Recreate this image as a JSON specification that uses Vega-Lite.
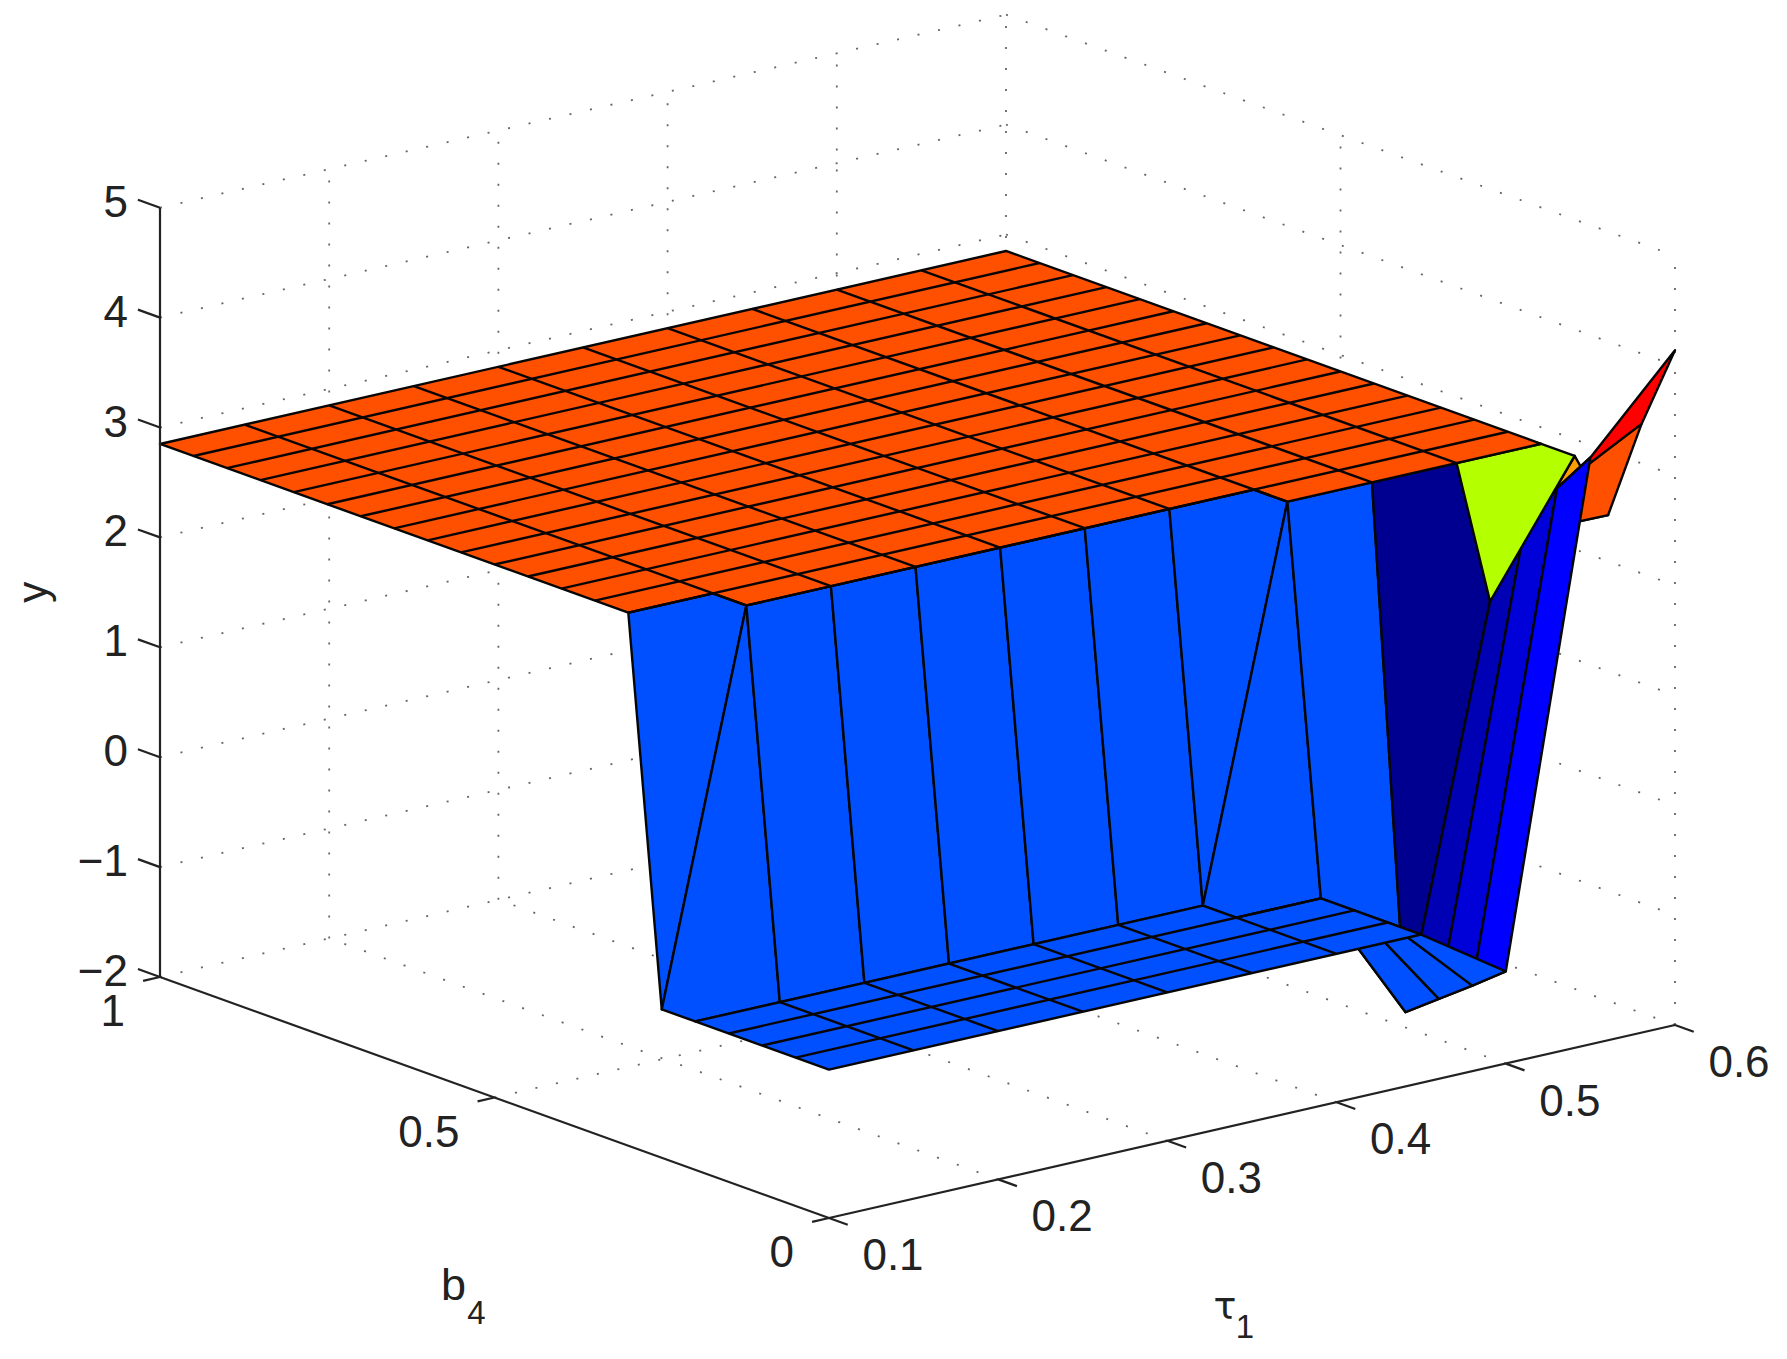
{"$schema":"https://vega.github.io/schema/vega-lite/v6.json","width":1787,"height":1359,"padding":0,"autosize":{"type":"fit","contains":"padding"},"background":"white","config":{"view":{"stroke":null}},
"data":{"values":[
{"k":"g","id":"g1","i":0,"tau":0.2,"b4":0,"y":-2},{"k":"g","id":"g1","i":1,"tau":0.2,"b4":1,"y":-2},
{"k":"g","id":"g2","i":0,"tau":0.3,"b4":0,"y":-2},{"k":"g","id":"g2","i":1,"tau":0.3,"b4":1,"y":-2},
{"k":"g","id":"g3","i":0,"tau":0.4,"b4":0,"y":-2},{"k":"g","id":"g3","i":1,"tau":0.4,"b4":1,"y":-2},
{"k":"g","id":"g4","i":0,"tau":0.5,"b4":0,"y":-2},{"k":"g","id":"g4","i":1,"tau":0.5,"b4":1,"y":-2},
{"k":"g","id":"g5","i":0,"tau":0.6,"b4":0,"y":-2},{"k":"g","id":"g5","i":1,"tau":0.6,"b4":1,"y":-2},
{"k":"g","id":"g6","i":0,"tau":0.1,"b4":0.5,"y":-2},{"k":"g","id":"g6","i":1,"tau":0.6,"b4":0.5,"y":-2},
{"k":"g","id":"g7","i":0,"tau":0.1,"b4":1,"y":-2},{"k":"g","id":"g7","i":1,"tau":0.6,"b4":1,"y":-2},
{"k":"g","id":"g8","i":0,"tau":0.1,"b4":1,"y":-1},{"k":"g","id":"g8","i":1,"tau":0.6,"b4":1,"y":-1},
{"k":"g","id":"g9","i":0,"tau":0.1,"b4":1,"y":0},{"k":"g","id":"g9","i":1,"tau":0.6,"b4":1,"y":0},
{"k":"g","id":"g10","i":0,"tau":0.1,"b4":1,"y":1},{"k":"g","id":"g10","i":1,"tau":0.6,"b4":1,"y":1},
{"k":"g","id":"g11","i":0,"tau":0.1,"b4":1,"y":2},{"k":"g","id":"g11","i":1,"tau":0.6,"b4":1,"y":2},
{"k":"g","id":"g12","i":0,"tau":0.1,"b4":1,"y":3},{"k":"g","id":"g12","i":1,"tau":0.6,"b4":1,"y":3},
{"k":"g","id":"g13","i":0,"tau":0.1,"b4":1,"y":4},{"k":"g","id":"g13","i":1,"tau":0.6,"b4":1,"y":4},
{"k":"g","id":"g14","i":0,"tau":0.1,"b4":1,"y":5},{"k":"g","id":"g14","i":1,"tau":0.6,"b4":1,"y":5},
{"k":"g","id":"g15","i":0,"tau":0.2,"b4":1,"y":-2},{"k":"g","id":"g15","i":1,"tau":0.2,"b4":1,"y":5},
{"k":"g","id":"g16","i":0,"tau":0.3,"b4":1,"y":-2},{"k":"g","id":"g16","i":1,"tau":0.3,"b4":1,"y":5},
{"k":"g","id":"g17","i":0,"tau":0.4,"b4":1,"y":-2},{"k":"g","id":"g17","i":1,"tau":0.4,"b4":1,"y":5},
{"k":"g","id":"g18","i":0,"tau":0.5,"b4":1,"y":-2},{"k":"g","id":"g18","i":1,"tau":0.5,"b4":1,"y":5},
{"k":"g","id":"g19","i":0,"tau":0.6,"b4":1,"y":-2},{"k":"g","id":"g19","i":1,"tau":0.6,"b4":1,"y":5},
{"k":"g","id":"g20","i":0,"tau":0.6,"b4":0.5,"y":-2},{"k":"g","id":"g20","i":1,"tau":0.6,"b4":0.5,"y":5},
{"k":"g","id":"g21","i":0,"tau":0.6,"b4":0,"y":-2},{"k":"g","id":"g21","i":1,"tau":0.6,"b4":0,"y":5},
{"k":"g","id":"g22","i":0,"tau":0.6,"b4":1,"y":-1},{"k":"g","id":"g22","i":1,"tau":0.6,"b4":0,"y":-1},
{"k":"g","id":"g23","i":0,"tau":0.6,"b4":1,"y":0},{"k":"g","id":"g23","i":1,"tau":0.6,"b4":0,"y":0},
{"k":"g","id":"g24","i":0,"tau":0.6,"b4":1,"y":1},{"k":"g","id":"g24","i":1,"tau":0.6,"b4":0,"y":1},
{"k":"g","id":"g25","i":0,"tau":0.6,"b4":1,"y":2},{"k":"g","id":"g25","i":1,"tau":0.6,"b4":0,"y":2},
{"k":"g","id":"g26","i":0,"tau":0.6,"b4":1,"y":3},{"k":"g","id":"g26","i":1,"tau":0.6,"b4":0,"y":3},
{"k":"g","id":"g27","i":0,"tau":0.6,"b4":1,"y":4},{"k":"g","id":"g27","i":1,"tau":0.6,"b4":0,"y":4},
{"k":"g","id":"g28","i":0,"tau":0.6,"b4":1,"y":5},{"k":"g","id":"g28","i":1,"tau":0.6,"b4":0,"y":5},

{"k":"f","id":"f01","c":"amber","i":0,"tau":0.55,"b4":0.15,"y":1.7},{"k":"f","id":"f01","c":"amber","i":1,"tau":0.6,"b4":0.15,"y":2.85},{"k":"f","id":"f01","c":"amber","i":2,"tau":0.6,"b4":0.1,"y":2.42},{"k":"f","id":"f01","c":"amber","i":3,"tau":0.55,"b4":0.1,"y":2.43},
{"k":"f","id":"f02","c":"orange","i":0,"tau":0.55,"b4":0.1,"y":2.43},{"k":"f","id":"f02","c":"orange","i":1,"tau":0.6,"b4":0.1,"y":2.42},{"k":"f","id":"f02","c":"orange","i":2,"tau":0.6,"b4":0.05,"y":3.36},{"k":"f","id":"f02","c":"orange","i":3,"tau":0.55,"b4":0.05,"y":2.95},
{"k":"f","id":"f03","c":"red","i":0,"tau":0.55,"b4":0.05,"y":2.95},{"k":"f","id":"f03","c":"red","i":1,"tau":0.6,"b4":0.05,"y":3.36},{"k":"f","id":"f03","c":"red","i":2,"tau":0.6,"b4":0,"y":4.14},{"k":"f","id":"f03","c":"red","i":3,"tau":0.55,"b4":0,"y":3.34},

{"k":"f","id":"f04","c":"wall","i":0,"tau":0.1,"b4":0.3,"y":2.85},{"k":"f","id":"f04","c":"wall","i":1,"tau":0.15,"b4":0.3,"y":2.85},{"k":"f","id":"f04","c":"wall","i":2,"tau":0.15,"b4":0.25,"y":2.85},{"k":"f","id":"f04","c":"wall","i":3,"tau":0.1,"b4":0.25,"y":-0.65},
{"k":"f","id":"f05","c":"wall","i":0,"tau":0.1,"b4":0.25,"y":-0.65},{"k":"f","id":"f05","c":"wall","i":1,"tau":0.15,"b4":0.25,"y":2.85},{"k":"f","id":"f05","c":"wall","i":2,"tau":0.15,"b4":0.2,"y":-0.65},{"k":"f","id":"f05","c":"wall","i":3,"tau":0.1,"b4":0.2,"y":-0.65},
{"k":"f","id":"f06","c":"wall","i":0,"tau":0.15,"b4":0.25,"y":2.85},{"k":"f","id":"f06","c":"wall","i":1,"tau":0.2,"b4":0.25,"y":2.85},{"k":"f","id":"f06","c":"wall","i":2,"tau":0.2,"b4":0.2,"y":-0.65},{"k":"f","id":"f06","c":"wall","i":3,"tau":0.15,"b4":0.2,"y":-0.65},
{"k":"f","id":"f07","c":"wall","i":0,"tau":0.2,"b4":0.25,"y":2.85},{"k":"f","id":"f07","c":"wall","i":1,"tau":0.25,"b4":0.25,"y":2.85},{"k":"f","id":"f07","c":"wall","i":2,"tau":0.25,"b4":0.2,"y":-0.65},{"k":"f","id":"f07","c":"wall","i":3,"tau":0.2,"b4":0.2,"y":-0.65},
{"k":"f","id":"f08","c":"wall","i":0,"tau":0.25,"b4":0.25,"y":2.85},{"k":"f","id":"f08","c":"wall","i":1,"tau":0.3,"b4":0.25,"y":2.85},{"k":"f","id":"f08","c":"wall","i":2,"tau":0.3,"b4":0.2,"y":-0.65},{"k":"f","id":"f08","c":"wall","i":3,"tau":0.25,"b4":0.2,"y":-0.65},
{"k":"f","id":"f09","c":"wall","i":0,"tau":0.3,"b4":0.25,"y":2.85},{"k":"f","id":"f09","c":"wall","i":1,"tau":0.35,"b4":0.25,"y":2.85},{"k":"f","id":"f09","c":"wall","i":2,"tau":0.35,"b4":0.2,"y":-0.65},{"k":"f","id":"f09","c":"wall","i":3,"tau":0.3,"b4":0.2,"y":-0.65},
{"k":"f","id":"f10","c":"wall","i":0,"tau":0.35,"b4":0.25,"y":2.85},{"k":"f","id":"f10","c":"wall","i":1,"tau":0.4,"b4":0.25,"y":2.85},{"k":"f","id":"f10","c":"wall","i":2,"tau":0.4,"b4":0.2,"y":-0.65},{"k":"f","id":"f10","c":"wall","i":3,"tau":0.35,"b4":0.2,"y":-0.65},
{"k":"f","id":"f11","c":"wall","i":0,"tau":0.4,"b4":0.25,"y":2.85},{"k":"f","id":"f11","c":"wall","i":1,"tau":0.45,"b4":0.25,"y":2.85},{"k":"f","id":"f11","c":"wall","i":2,"tau":0.45,"b4":0.2,"y":2.85},{"k":"f","id":"f11","c":"wall","i":3,"tau":0.4,"b4":0.2,"y":-0.65},
{"k":"f","id":"f12","c":"wall","i":0,"tau":0.4,"b4":0.2,"y":-0.65},{"k":"f","id":"f12","c":"wall","i":1,"tau":0.45,"b4":0.2,"y":2.85},{"k":"f","id":"f12","c":"wall","i":2,"tau":0.45,"b4":0.15,"y":-0.65},{"k":"f","id":"f12","c":"wall","i":3,"tau":0.4,"b4":0.15,"y":-0.65},
{"k":"f","id":"f13","c":"wall","i":0,"tau":0.45,"b4":0.2,"y":2.85},{"k":"f","id":"f13","c":"wall","i":1,"tau":0.5,"b4":0.2,"y":2.85},{"k":"f","id":"f13","c":"wall","i":2,"tau":0.5,"b4":0.15,"y":-1.86},{"k":"f","id":"f13","c":"wall","i":3,"tau":0.45,"b4":0.15,"y":-0.65},

{"k":"f","id":"f14","c":"navy","i":0,"tau":0.5,"b4":0.2,"y":2.85},{"k":"f","id":"f14","c":"navy","i":1,"tau":0.55,"b4":0.2,"y":2.85},{"k":"f","id":"f14","c":"navy","i":2,"tau":0.55,"b4":0.15,"y":1.7},{"k":"f","id":"f14","c":"navy","i":3,"tau":0.5,"b4":0.15,"y":-1.86},
{"k":"f","id":"f15","c":"blue1","i":0,"tau":0.5,"b4":0.15,"y":-1.86},{"k":"f","id":"f15","c":"blue1","i":1,"tau":0.55,"b4":0.15,"y":1.7},{"k":"f","id":"f15","c":"blue1","i":2,"tau":0.55,"b4":0.1,"y":2.43},{"k":"f","id":"f15","c":"blue1","i":3,"tau":0.5,"b4":0.1,"y":-1.63},
{"k":"f","id":"f16","c":"blue2","i":0,"tau":0.5,"b4":0.1,"y":-1.63},{"k":"f","id":"f16","c":"blue2","i":1,"tau":0.55,"b4":0.1,"y":2.43},{"k":"f","id":"f16","c":"blue2","i":2,"tau":0.55,"b4":0.05,"y":2.95},{"k":"f","id":"f16","c":"blue2","i":3,"tau":0.5,"b4":0.05,"y":-1.4},
{"k":"f","id":"f17","c":"blue3","i":0,"tau":0.5,"b4":0.05,"y":-1.4},{"k":"f","id":"f17","c":"blue3","i":1,"tau":0.55,"b4":0.05,"y":2.95},{"k":"f","id":"f17","c":"blue3","i":2,"tau":0.55,"b4":0,"y":3.34},{"k":"f","id":"f17","c":"blue3","i":3,"tau":0.5,"b4":0,"y":-1.16},
{"k":"f","id":"f18","c":"lime","i":0,"tau":0.55,"b4":0.2,"y":2.85},{"k":"f","id":"f18","c":"lime","i":1,"tau":0.6,"b4":0.2,"y":2.85},{"k":"f","id":"f18","c":"lime","i":2,"tau":0.6,"b4":0.15,"y":2.85},{"k":"f","id":"f18","c":"lime","i":3,"tau":0.55,"b4":0.15,"y":1.7},

{"k":"f","id":"f19","c":"wall","i":0,"tau":0.45,"b4":0.15,"y":-0.65},{"k":"f","id":"f19","c":"wall","i":1,"tau":0.5,"b4":0.15,"y":-1.86},{"k":"f","id":"f19","c":"wall","i":2,"tau":0.5,"b4":0.1,"y":-1.63},{"k":"f","id":"f19","c":"wall","i":3,"tau":0.45,"b4":0.1,"y":-0.65},
{"k":"f","id":"f20","c":"wall","i":0,"tau":0.45,"b4":0.1,"y":-0.65},{"k":"f","id":"f20","c":"wall","i":1,"tau":0.5,"b4":0.1,"y":-1.63},{"k":"f","id":"f20","c":"wall","i":2,"tau":0.5,"b4":0.05,"y":-1.4},{"k":"f","id":"f20","c":"wall","i":3,"tau":0.45,"b4":0.05,"y":-0.65},
{"k":"f","id":"f21","c":"wall","i":0,"tau":0.45,"b4":0.05,"y":-0.65},{"k":"f","id":"f21","c":"wall","i":1,"tau":0.5,"b4":0.05,"y":-1.4},{"k":"f","id":"f21","c":"wall","i":2,"tau":0.5,"b4":0,"y":-1.16},{"k":"f","id":"f21","c":"wall","i":3,"tau":0.45,"b4":0,"y":-0.65},

{"k":"f","id":"f22","c":"wall","i":0,"tau":0.1,"b4":0.2,"y":-0.65},{"k":"f","id":"f22","c":"wall","i":1,"tau":0.4,"b4":0.2,"y":-0.65},{"k":"f","id":"f22","c":"wall","i":2,"tau":0.4,"b4":0.15,"y":-0.65},{"k":"f","id":"f22","c":"wall","i":3,"tau":0.45,"b4":0.15,"y":-0.65},{"k":"f","id":"f22","c":"wall","i":4,"tau":0.45,"b4":0,"y":-0.65},{"k":"f","id":"f22","c":"wall","i":5,"tau":0.1,"b4":0,"y":-0.65},

{"k":"f","id":"f23","c":"orange","i":0,"tau":0.1,"b4":1,"y":2.85},{"k":"f","id":"f23","c":"orange","i":1,"tau":0.6,"b4":1,"y":2.85},{"k":"f","id":"f23","c":"orange","i":2,"tau":0.6,"b4":0.2,"y":2.85},{"k":"f","id":"f23","c":"orange","i":3,"tau":0.45,"b4":0.2,"y":2.85},{"k":"f","id":"f23","c":"orange","i":4,"tau":0.45,"b4":0.25,"y":2.85},{"k":"f","id":"f23","c":"orange","i":5,"tau":0.15,"b4":0.25,"y":2.85},{"k":"f","id":"f23","c":"orange","i":6,"tau":0.15,"b4":0.3,"y":2.85},{"k":"f","id":"f23","c":"orange","i":7,"tau":0.1,"b4":0.3,"y":2.85},

{"k":"m","id":"m01","i":0,"tau":0.1,"b4":0.95,"y":2.85},{"k":"m","id":"m01","i":1,"tau":0.6,"b4":0.95,"y":2.85},
{"k":"m","id":"m02","i":0,"tau":0.1,"b4":0.9,"y":2.85},{"k":"m","id":"m02","i":1,"tau":0.6,"b4":0.9,"y":2.85},
{"k":"m","id":"m03","i":0,"tau":0.1,"b4":0.85,"y":2.85},{"k":"m","id":"m03","i":1,"tau":0.6,"b4":0.85,"y":2.85},
{"k":"m","id":"m04","i":0,"tau":0.1,"b4":0.8,"y":2.85},{"k":"m","id":"m04","i":1,"tau":0.6,"b4":0.8,"y":2.85},
{"k":"m","id":"m05","i":0,"tau":0.1,"b4":0.75,"y":2.85},{"k":"m","id":"m05","i":1,"tau":0.6,"b4":0.75,"y":2.85},
{"k":"m","id":"m06","i":0,"tau":0.1,"b4":0.7,"y":2.85},{"k":"m","id":"m06","i":1,"tau":0.6,"b4":0.7,"y":2.85},
{"k":"m","id":"m07","i":0,"tau":0.1,"b4":0.65,"y":2.85},{"k":"m","id":"m07","i":1,"tau":0.6,"b4":0.65,"y":2.85},
{"k":"m","id":"m08","i":0,"tau":0.1,"b4":0.6,"y":2.85},{"k":"m","id":"m08","i":1,"tau":0.6,"b4":0.6,"y":2.85},
{"k":"m","id":"m09","i":0,"tau":0.1,"b4":0.55,"y":2.85},{"k":"m","id":"m09","i":1,"tau":0.6,"b4":0.55,"y":2.85},
{"k":"m","id":"m10","i":0,"tau":0.1,"b4":0.5,"y":2.85},{"k":"m","id":"m10","i":1,"tau":0.6,"b4":0.5,"y":2.85},
{"k":"m","id":"m11","i":0,"tau":0.1,"b4":0.45,"y":2.85},{"k":"m","id":"m11","i":1,"tau":0.6,"b4":0.45,"y":2.85},
{"k":"m","id":"m12","i":0,"tau":0.1,"b4":0.4,"y":2.85},{"k":"m","id":"m12","i":1,"tau":0.6,"b4":0.4,"y":2.85},
{"k":"m","id":"m13","i":0,"tau":0.1,"b4":0.35,"y":2.85},{"k":"m","id":"m13","i":1,"tau":0.6,"b4":0.35,"y":2.85},
{"k":"m","id":"m14","i":0,"tau":0.1,"b4":0.3,"y":2.85},{"k":"m","id":"m14","i":1,"tau":0.6,"b4":0.3,"y":2.85},
{"k":"m","id":"m15","i":0,"tau":0.15,"b4":0.25,"y":2.85},{"k":"m","id":"m15","i":1,"tau":0.6,"b4":0.25,"y":2.85},
{"k":"m","id":"m16","i":0,"tau":0.15,"b4":1,"y":2.85},{"k":"m","id":"m16","i":1,"tau":0.15,"b4":0.25,"y":2.85},
{"k":"m","id":"m17","i":0,"tau":0.2,"b4":1,"y":2.85},{"k":"m","id":"m17","i":1,"tau":0.2,"b4":0.25,"y":2.85},
{"k":"m","id":"m18","i":0,"tau":0.25,"b4":1,"y":2.85},{"k":"m","id":"m18","i":1,"tau":0.25,"b4":0.25,"y":2.85},
{"k":"m","id":"m19","i":0,"tau":0.3,"b4":1,"y":2.85},{"k":"m","id":"m19","i":1,"tau":0.3,"b4":0.25,"y":2.85},
{"k":"m","id":"m20","i":0,"tau":0.35,"b4":1,"y":2.85},{"k":"m","id":"m20","i":1,"tau":0.35,"b4":0.25,"y":2.85},
{"k":"m","id":"m21","i":0,"tau":0.4,"b4":1,"y":2.85},{"k":"m","id":"m21","i":1,"tau":0.4,"b4":0.25,"y":2.85},
{"k":"m","id":"m22","i":0,"tau":0.45,"b4":1,"y":2.85},{"k":"m","id":"m22","i":1,"tau":0.45,"b4":0.2,"y":2.85},
{"k":"m","id":"m23","i":0,"tau":0.5,"b4":1,"y":2.85},{"k":"m","id":"m23","i":1,"tau":0.5,"b4":0.2,"y":2.85},
{"k":"m","id":"m24","i":0,"tau":0.55,"b4":1,"y":2.85},{"k":"m","id":"m24","i":1,"tau":0.55,"b4":0.2,"y":2.85},
{"k":"m","id":"m25","i":0,"tau":0.1,"b4":0.15,"y":-0.65},{"k":"m","id":"m25","i":1,"tau":0.45,"b4":0.15,"y":-0.65},
{"k":"m","id":"m26","i":0,"tau":0.1,"b4":0.1,"y":-0.65},{"k":"m","id":"m26","i":1,"tau":0.45,"b4":0.1,"y":-0.65},
{"k":"m","id":"m27","i":0,"tau":0.1,"b4":0.05,"y":-0.65},{"k":"m","id":"m27","i":1,"tau":0.45,"b4":0.05,"y":-0.65},
{"k":"m","id":"m28","i":0,"tau":0.15,"b4":0.2,"y":-0.65},{"k":"m","id":"m28","i":1,"tau":0.15,"b4":0,"y":-0.65},
{"k":"m","id":"m29","i":0,"tau":0.2,"b4":0.2,"y":-0.65},{"k":"m","id":"m29","i":1,"tau":0.2,"b4":0,"y":-0.65},
{"k":"m","id":"m30","i":0,"tau":0.25,"b4":0.2,"y":-0.65},{"k":"m","id":"m30","i":1,"tau":0.25,"b4":0,"y":-0.65},
{"k":"m","id":"m31","i":0,"tau":0.3,"b4":0.2,"y":-0.65},{"k":"m","id":"m31","i":1,"tau":0.3,"b4":0,"y":-0.65},
{"k":"m","id":"m32","i":0,"tau":0.35,"b4":0.2,"y":-0.65},{"k":"m","id":"m32","i":1,"tau":0.35,"b4":0,"y":-0.65},
{"k":"m","id":"m33","i":0,"tau":0.4,"b4":0.15,"y":-0.65},{"k":"m","id":"m33","i":1,"tau":0.4,"b4":0,"y":-0.65},

{"k":"a","id":"a1","i":0,"tau":0.1,"b4":1,"y":-2},{"k":"a","id":"a1","i":1,"tau":0.1,"b4":1,"y":5},
{"k":"a","id":"a2","i":0,"tau":0.1,"b4":1,"y":-2},{"k":"a","id":"a2","i":1,"tau":0.1,"b4":0,"y":-2},
{"k":"a","id":"a3","i":0,"tau":0.1,"b4":0,"y":-2},{"k":"a","id":"a3","i":1,"tau":0.6,"b4":0,"y":-2},
{"k":"a","id":"z1","i":0,"tau":0.1,"b4":1,"y":-2},{"k":"a","id":"z1","i":1,"tau":0.1,"b4":1.033,"y":-2},
{"k":"a","id":"z2","i":0,"tau":0.1,"b4":1,"y":-1},{"k":"a","id":"z2","i":1,"tau":0.1,"b4":1.033,"y":-1},
{"k":"a","id":"z3","i":0,"tau":0.1,"b4":1,"y":0},{"k":"a","id":"z3","i":1,"tau":0.1,"b4":1.033,"y":0},
{"k":"a","id":"z4","i":0,"tau":0.1,"b4":1,"y":1},{"k":"a","id":"z4","i":1,"tau":0.1,"b4":1.033,"y":1},
{"k":"a","id":"z5","i":0,"tau":0.1,"b4":1,"y":2},{"k":"a","id":"z5","i":1,"tau":0.1,"b4":1.033,"y":2},
{"k":"a","id":"z6","i":0,"tau":0.1,"b4":1,"y":3},{"k":"a","id":"z6","i":1,"tau":0.1,"b4":1.033,"y":3},
{"k":"a","id":"z7","i":0,"tau":0.1,"b4":1,"y":4},{"k":"a","id":"z7","i":1,"tau":0.1,"b4":1.033,"y":4},
{"k":"a","id":"z8","i":0,"tau":0.1,"b4":1,"y":5},{"k":"a","id":"z8","i":1,"tau":0.1,"b4":1.033,"y":5},
{"k":"a","id":"b1","i":0,"tau":0.1,"b4":1,"y":-2},{"k":"a","id":"b1","i":1,"tau":0.09,"b4":1,"y":-2},
{"k":"a","id":"b2","i":0,"tau":0.1,"b4":0.5,"y":-2},{"k":"a","id":"b2","i":1,"tau":0.09,"b4":0.5,"y":-2},
{"k":"a","id":"b3","i":0,"tau":0.1,"b4":0,"y":-2},{"k":"a","id":"b3","i":1,"tau":0.09,"b4":0,"y":-2},
{"k":"a","id":"t1","i":0,"tau":0.1,"b4":0,"y":-2},{"k":"a","id":"t1","i":1,"tau":0.1,"b4":-0.028,"y":-2},
{"k":"a","id":"t2","i":0,"tau":0.2,"b4":0,"y":-2},{"k":"a","id":"t2","i":1,"tau":0.2,"b4":-0.028,"y":-2},
{"k":"a","id":"t3","i":0,"tau":0.3,"b4":0,"y":-2},{"k":"a","id":"t3","i":1,"tau":0.3,"b4":-0.028,"y":-2},
{"k":"a","id":"t4","i":0,"tau":0.4,"b4":0,"y":-2},{"k":"a","id":"t4","i":1,"tau":0.4,"b4":-0.028,"y":-2},
{"k":"a","id":"t5","i":0,"tau":0.5,"b4":0,"y":-2},{"k":"a","id":"t5","i":1,"tau":0.5,"b4":-0.028,"y":-2},
{"k":"a","id":"t6","i":0,"tau":0.6,"b4":0,"y":-2},{"k":"a","id":"t6","i":1,"tau":0.6,"b4":-0.028,"y":-2},

{"k":"lz","label":"−2","tau":0.1,"b4":1,"y":-2},{"k":"lz","label":"−1","tau":0.1,"b4":1,"y":-1},{"k":"lz","label":"0","tau":0.1,"b4":1,"y":0},{"k":"lz","label":"1","tau":0.1,"b4":1,"y":1},{"k":"lz","label":"2","tau":0.1,"b4":1,"y":2},{"k":"lz","label":"3","tau":0.1,"b4":1,"y":3},{"k":"lz","label":"4","tau":0.1,"b4":1,"y":4},{"k":"lz","label":"5","tau":0.1,"b4":1,"y":5},
{"k":"lb","label":"0","tau":0.1,"b4":0,"y":-2},{"k":"lb","label":"0.5","tau":0.1,"b4":0.5,"y":-2},{"k":"lb","label":"1","tau":0.1,"b4":1,"y":-2},
{"k":"lt","label":"0.1","tau":0.1,"b4":0,"y":-2},{"k":"lt","label":"0.2","tau":0.2,"b4":0,"y":-2},{"k":"lt","label":"0.3","tau":0.3,"b4":0,"y":-2},{"k":"lt","label":"0.4","tau":0.4,"b4":0,"y":-2},{"k":"lt","label":"0.5","tau":0.5,"b4":0,"y":-2},{"k":"lt","label":"0.6","tau":0.6,"b4":0,"y":-2},
{"k":"tb","label":"b","tau":0.1,"b4":0.5,"y":-2},{"k":"ts","label":"4","tau":0.1,"b4":0.5,"y":-2},
{"k":"tt","label":"τ","tau":0.35,"b4":0,"y":-2},{"k":"tu","label":"1","tau":0.35,"b4":0,"y":-2},
{"k":"ty","label":"y","tau":0.1,"b4":1,"y":1.5}
]},
"transform":[
{"calculate":"160+(1-datum.b4)*669+(datum.tau-0.1)*1692","as":"px"},
{"calculate":"977+(1-datum.b4)*241-(datum.tau-0.1)*386-(datum.y+2)*109.9","as":"py"}
],
"encoding":{
"x":{"field":"px","type":"quantitative","scale":{"domain":[0,1787],"nice":false,"zero":false},"axis":null},
"y":{"field":"py","type":"quantitative","scale":{"domain":[1359,0],"nice":false,"zero":false},"axis":null}
},
"layer":[
{"transform":[{"filter":"datum.k=='g'"}],"mark":{"type":"line","stroke":"#666666","strokeWidth":1.8,"strokeDash":[2,19]},"encoding":{"detail":{"field":"id"},"order":{"field":"i","type":"quantitative"}}},
{"transform":[{"filter":"datum.k=='f'"}],"mark":{"type":"line","interpolate":"linear-closed","stroke":"#060606","strokeWidth":2.4,"strokeJoin":"round"},"encoding":{"detail":{"field":"id"},"order":{"field":"i","type":"quantitative"},"fill":{"field":"c","type":"nominal","legend":null,"scale":{"domain":["orange","red","amber","lime","navy","blue1","blue2","blue3","wall"],"range":["#ff5000","#ff0000","#ffa000","#b4ff00","#000090","#0000b4","#0000d8","#0000ff","#0050ff"]}}}},
{"transform":[{"filter":"datum.k=='m'"}],"mark":{"type":"line","stroke":"#0a0505","strokeWidth":2.4},"encoding":{"detail":{"field":"id"},"order":{"field":"i","type":"quantitative"}}},
{"transform":[{"filter":"datum.k=='a'"}],"mark":{"type":"line","stroke":"#222222","strokeWidth":2.2},"encoding":{"detail":{"field":"id"},"order":{"field":"i","type":"quantitative"}}},
{"transform":[{"filter":"datum.k=='lz'"}],"mark":{"type":"text","font":"Liberation Sans","fontSize":44,"align":"right","baseline":"middle","dx":-32,"dy":-4,"color":"#222222"},"encoding":{"text":{"field":"label"}}},
{"transform":[{"filter":"datum.k=='lb'"}],"mark":{"type":"text","font":"Liberation Sans","fontSize":44,"align":"right","baseline":"middle","dx":-35,"dy":36,"color":"#222222"},"encoding":{"text":{"field":"label"}}},
{"transform":[{"filter":"datum.k=='lt'"}],"mark":{"type":"text","font":"Liberation Sans","fontSize":44,"align":"center","baseline":"middle","dx":64,"dy":39,"color":"#222222"},"encoding":{"text":{"field":"label"}}},
{"transform":[{"filter":"datum.k=='tb'"}],"mark":{"type":"text","font":"Liberation Sans","fontSize":45,"align":"center","baseline":"middle","dx":-41,"dy":188,"color":"#222222"},"encoding":{"text":{"field":"label"}}},
{"transform":[{"filter":"datum.k=='ts'"}],"mark":{"type":"text","font":"Liberation Sans","fontSize":33,"align":"center","baseline":"middle","dx":-18,"dy":216,"color":"#222222"},"encoding":{"text":{"field":"label"}}},
{"transform":[{"filter":"datum.k=='tt'"}],"mark":{"type":"text","font":"DejaVu Sans","fontSize":38,"align":"center","baseline":"middle","dx":-27,"dy":186,"color":"#222222"},"encoding":{"text":{"field":"label"}}},
{"transform":[{"filter":"datum.k=='tu'"}],"mark":{"type":"text","font":"Liberation Sans","fontSize":33,"align":"center","baseline":"middle","dx":-7,"dy":206,"color":"#222222"},"encoding":{"text":{"field":"label"}}},
{"transform":[{"filter":"datum.k=='ty'"}],"mark":{"type":"text","font":"Liberation Sans","fontSize":42,"align":"center","baseline":"middle","angle":270,"dx":0,"dy":-126,"color":"#222222"},"encoding":{"text":{"field":"label"}}}
]}
